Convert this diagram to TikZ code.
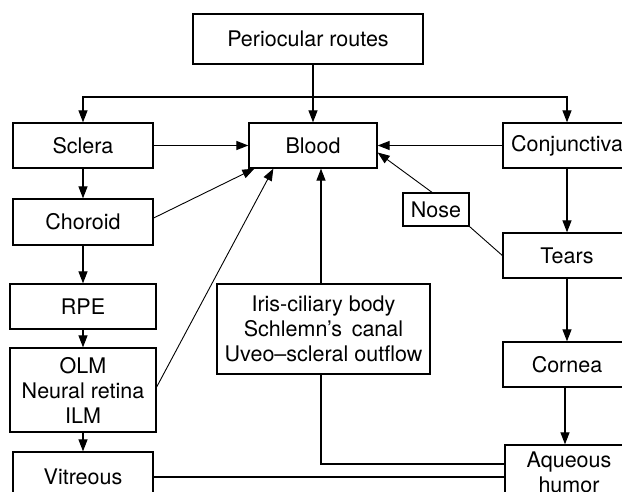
\documentclass[tikz,border=0pt]{standalone}
\usepackage{fontspec}
\setmainfont{TeX Gyre Heros}
\usetikzlibrary{arrows.meta,positioning}
\tikzset{box/.style={
            draw,
            line width=1.3pt,
            inner sep=0pt,
            align=center,
            minimum height=45pt,
            font=\fontsize{21.5}{25}\selectfont
        },
        smallbox/.style={
            box,
            minimum height=33pt
        },
        link/.style={
            line width=1.2pt,
            >={Triangle[length=12pt,width=9pt]}
        },
        thinlink/.style={
            link,
            line width=0.9pt
        }
    }
\begin{document}
\begin{tikzpicture}[x=1pt,y=-1pt]
        \clip (0,0) rectangle (622,492);
        \node[box,minimum width=230pt,minimum height=50pt] at (308,39) (peri) {Periocular routes};
        \node[box,minimum width=140pt] at (83,145.5) (sclera) {Sclera};
        \node[box,minimum width=128pt] at (313,145.5) (blood) {Blood};
        \node[box,minimum width=128pt] at (567,145.5) (conj) {Conjunctiva};
        \node[box,minimum width=140pt,minimum height=46pt] at (83,222) (choroid) {Choroid};
        \node[smallbox,minimum width=66pt] at (436,209.5) (nose) {Nose};
        \node[box,minimum width=128pt] at (567,255.5) (tears) {Tears};
        \node[box,minimum width=146pt] at (83,306.5) (rpe) {RPE};
        \node[box,minimum width=213pt,minimum height=90pt] at (323.5,329) (iris) {Iris-ciliary body\\Schlemn’s\, canal\\Uveo–scleral outflow};
        \node[box,minimum width=146pt,minimum height=84pt] at (83,390) (olm) {OLM\\Neural retina\\ILM};
        \node[box,minimum width=128pt] at (567,364.5) (cornea) {Cornea};
        \node[box,minimum width=140pt,minimum height=50pt] at (83,477) (vitreous) {Vitreous};
        \node[box,minimum width=128pt,minimum height=54pt] at (569,472) (aqueous) {Aqueous\\humor};
        \coordinate (split) at (313,97);
        % from the top box
        \draw[link,->] (peri.south -| blood.north) -- (blood.north);
        \draw[link,<->] (sclera.north) |- (split) -| (conj.north);
        % left column
        \draw[link,->] (sclera) -- (choroid);
        \draw[link,->] (choroid) -- (rpe);
        \draw[link,->] (rpe) -- (olm);
        \draw[link,->] (olm) -- (vitreous);
        % right column
        \draw[link,->] (conj) -- (tears);
        \draw[link,->] (tears) -- (cornea);
        \draw[link,->] ([xshift=-2pt]cornea.south) -- ([xshift=-2pt]cornea.south |- aqueous.north);
        % into the blood
        \draw[link,->] (sclera) -- (blood);
        \draw[link,->] (conj) -- (blood);
        \draw[thinlink,->] ([yshift=4pt]choroid.east) -- ([xshift=6pt]blood.south west);
        \draw[thinlink,->] ([yshift=3pt]olm.east) -- ([xshift=25pt]blood.south west);
        \draw[link,->] (iris.north -| 321,0) -- (blood.south -| 321,0);
        \draw[thinlink,->] ([xshift=-4pt]nose.north) -- ([yshift=-7pt]blood.east);
        \draw[thinlink] (tears.west) -- (nose.south east);
        % towards the aqueous humor
        \draw[link] (iris.south -| 321,0) |- ([yshift=8pt]aqueous.west);
        \draw[link] (vitreous) -- (vitreous -| aqueous.west);
    \end{tikzpicture}
\end{document}
